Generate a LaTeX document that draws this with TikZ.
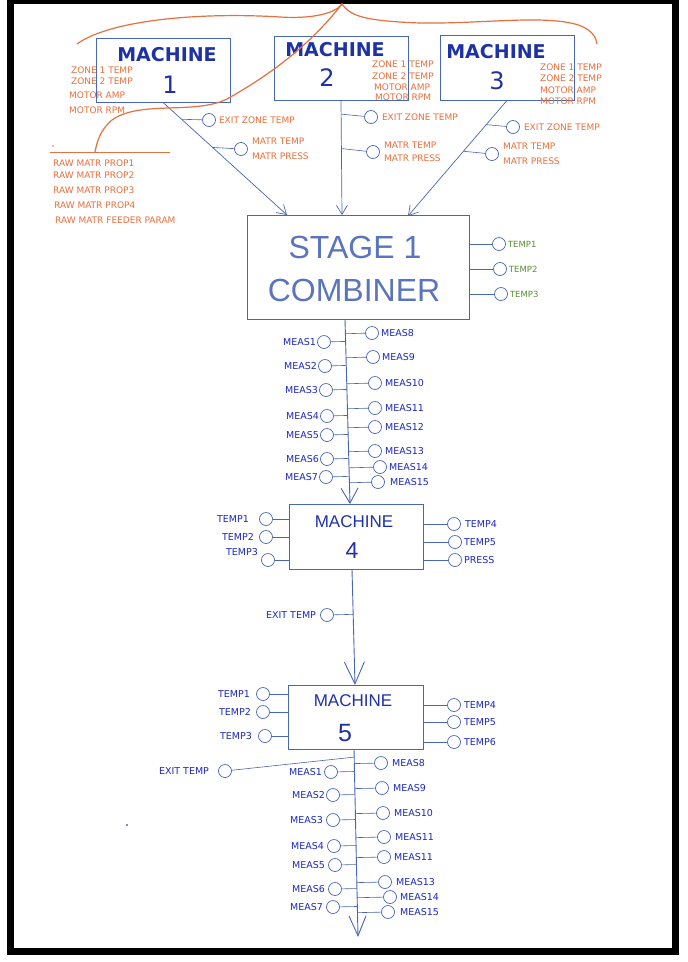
\documentclass[tikz,border=0pt]{standalone}
\usepackage{fontspec}
\setmainfont{DejaVu Sans}
\newfontfamily\sketchfont{Liberation Sans}
\usetikzlibrary{positioning, calc, arrows.meta}

\definecolor{boxblue}{RGB}{72,102,182}
\definecolor{inkblue}{RGB}{28,40,192}
\definecolor{penblue}{RGB}{30,50,165}
\definecolor{rawred}{RGB}{230,112,62}
\definecolor{tempgreen}{RGB}{92,142,48}

\begin{document}
\begin{tikzpicture}[x=1pt, y=-1pt,
    box/.style={rectangle, draw=boxblue, line width=0.8pt, minimum width=134pt, minimum height=64pt},
    probe/.style={circle, draw=boxblue, line width=0.7pt, minimum size=13pt, inner sep=0pt},
    tap/.style={draw=boxblue, line width=0.6pt},
    feed/.style={draw=boxblue, line width=0.7pt, -{Straight Barb[length=9pt, width=11pt]}},
    trunk/.style={draw=boxblue, line width=0.9pt, -{Straight Barb[length=15pt, width=17pt]}},
    measlbl/.style={font=\fontsize{9.5}{11}\selectfont, text=inkblue, inner sep=0pt},
    rawlbl/.style={font=\fontsize{9}{10}\selectfont, text=rawred, inner sep=0pt, anchor=west},
    grnlbl/.style={font=\fontsize{8.5}{10}\selectfont, text=tempgreen, inner sep=0pt},
    bigtitle/.style={font=\bfseries\fontsize{19}{20}\selectfont, text=penblue, inner sep=0pt},
    bignum/.style={font=\fontsize{24}{26}\selectfont, text=penblue, inner sep=0pt},
    thintitle/.style={font=\sketchfont\fontsize{17}{18}\selectfont, text=penblue, inner sep=0pt},
    combtitle/.style={font=\sketchfont\fontsize{32}{34}\selectfont, text=boxblue!90, inner sep=0pt},
]
    \useasboundingbox (0,0) rectangle (688,962);
    % Frame
    \fill[black] (7,0) rectangle (679,955);
    \fill[white] (14,4) rectangle (672,948);

    % Machines 1-3
    \node[box] (m1) at (163,70) {};
    \node[box] (m2) at (341,68) {};
    \node[box, minimum height=65pt] (m3) at (507,67.5) {};
    \node[bigtitle] (m1t) at (167,55) {MACHINE};
    \node[bignum] (m1n) at (170,85) {1};
    \node[bigtitle] (m2t) at (335,50) {MACHINE};
    \node[bignum] (m2n) at (327,78) {2};
    \node[bigtitle] (m3t) at (496,52) {MACHINE};
    \node[bignum] (m3n) at (497,81) {3};

    % Machine readings
    \node[rawlbl] (z11) at (71,70) {ZONE 1 TEMP};
    \node[rawlbl] (z12) at (71,81) {ZONE 2 TEMP};
    \node[rawlbl] (z13) at (69,95) {MOTOR AMP};
    \node[rawlbl] (z14) at (69,110) {MOTOR RPM};
    \node[rawlbl] (z21) at (372,64) {ZONE 1 TEMP};
    \node[rawlbl] (z22) at (372,76) {ZONE 2 TEMP};
    \node[rawlbl] (z23) at (374,87) {MOTOR AMP};
    \node[rawlbl] (z24) at (375,97) {MOTOR RPM};
    \node[rawlbl] (z31) at (540,67) {ZONE 1 TEMP};
    \node[rawlbl] (z32) at (540,78) {ZONE 2 TEMP};
    \node[rawlbl] (z33) at (540,90) {MOTOR AMP};
    \node[rawlbl] (z34) at (540,101) {MOTOR RPM};

    % Raw material
    \node[rawlbl] (raw1) at (53,163) {RAW MATR PROP1};
    \node[rawlbl] (raw2) at (53,175) {RAW MATR PROP2};
    \node[rawlbl] (raw3) at (53,190) {RAW MATR PROP3};
    \node[rawlbl] (raw4) at (54,205) {RAW MATR PROP4};
    \node[rawlbl] (raw5) at (55,220) {RAW MATR FEEDER PARAM};

    % Stage 1 combiner
    \node[box, minimum width=222pt, minimum height=104pt] (comb) at (358,267) {};
    \node[combtitle] (combt1) at (355,247) {STAGE 1};
    \node[combtitle] (combt2) at (354,290) {COMBINER};
    \coordinate (in1) at (287,215);
    \coordinate (in2) at (342,215);
    \coordinate (in3) at (408,216);

    % Feeds into combiner
    \draw[feed] (m1.south) -- (in1) coordinate[pos=0.15] (k1) coordinate[pos=0.40] (k2);
    \draw[feed] (m2.south) -- (in2) coordinate[pos=0.12] (k3) coordinate[pos=0.42] (k4);
    \draw[feed] (m3.south) -- (in3) coordinate[pos=0.21] (k5) coordinate[pos=0.44] (k6);

    \node[probe] (x1) at (209,120) {};
    \node[rawlbl, right=3pt of x1] (x1l) {EXIT ZONE TEMP};
    \node[probe] (y1) at (241,149) {};
    \node[rawlbl, font=\fontsize{9}{15}\selectfont, align=left, right=4pt of y1] (y1l) {MATR TEMP\\MATR PRESS};
    \node[probe] (x2) at (371,117) {};
    \node[rawlbl, right=4pt of x2] (x2l) {EXIT ZONE TEMP};
    \node[probe] (y2) at (373,152) {};
    \node[rawlbl, font=\fontsize{9}{13}\selectfont, align=left, right=4pt of y2] (y2l) {MATR TEMP\\MATR PRESS};
    \node[probe] (x3) at (513,127) {};
    \node[rawlbl, right=4pt of x3] (x3l) {EXIT ZONE TEMP};
    \node[probe] (y3) at (492,154) {};
    \node[rawlbl, font=\fontsize{9}{15}\selectfont, align=left, right=4pt of y3] (y3l) {MATR TEMP\\MATR PRESS};

    \draw[tap] (k1) -- (x1);
    \draw[tap] (k2) -- (y1);
    \draw[tap] (k3) -- (x2);
    \draw[tap] (k4) -- (y2);
    \draw[tap] (k5) -- (x3);
    \draw[tap] (k6) -- (y3);

    % Combiner temperatures
    \node[probe] (g1) at (499,244) {};
    \node[grnlbl, right=2pt of g1] (g1l) {TEMP1};
    \node[probe] (g2) at (500,269) {};
    \node[grnlbl, right=2pt of g2] (g2l) {TEMP2};
    \node[probe] (g3) at (501,294) {};
    \node[grnlbl, right=2pt of g3] (g3l) {TEMP3};
    \draw[tap] (comb.east |- g1) -- (g1);
    \draw[tap] (comb.east |- g2) -- (g2);
    \draw[tap] (comb.east |- g3) -- (g3);

    % Machine 4
    \node[box, minimum height=65pt] (m4) at (356,536.5) {};
    \node[thintitle] (m4t) at (354,522) {MACHINE};
    \node[thintitle, font=\sketchfont\fontsize{23}{24}\selectfont] (m4n) at (352,551) {4};

    % Combiner to machine 4
    \coordinate (ta) at (345,319);
    \coordinate (tb) at (350,504);
    \draw[trunk] (ta) -- (tb);

    \node[probe] (c1) at (324,342) {};
    \node[measlbl, left=1pt of c1] (c1l) {MEAS1};
    \node[probe] (c2) at (325,366) {};
    \node[measlbl, left=1pt of c2] (c2l) {MEAS2};
    \node[probe] (c3) at (326,390) {};
    \node[measlbl, left=1pt of c3] (c3l) {MEAS3};
    \node[probe] (c4) at (327,416) {};
    \node[measlbl, left=1pt of c4] (c4l) {MEAS4};
    \node[probe] (c5) at (327,435) {};
    \node[measlbl, left=1pt of c5] (c5l) {MEAS5};
    \node[probe] (c6) at (327,459) {};
    \node[measlbl, left=1pt of c6] (c6l) {MEAS6};
    \node[probe] (c7) at (326,477) {};
    \node[measlbl, left=1pt of c7] (c7l) {MEAS7};
    \node[probe] (c8) at (372,333) {};
    \node[measlbl, right=2pt of c8] (c8l) {MEAS8};
    \node[probe] (c9) at (373,357) {};
    \node[measlbl, right=2pt of c9] (c9l) {MEAS9};
    \node[probe] (c10) at (375,383) {};
    \node[measlbl, right=3pt of c10] (c10l) {MEAS10};
    \node[probe] (c11) at (375,408) {};
    \node[measlbl, right=3pt of c11] (c11l) {MEAS11};
    \node[probe] (c12) at (375,427) {};
    \node[measlbl, right=3pt of c12] (c12l) {MEAS12};
    \node[probe] (c13) at (375,451) {};
    \node[measlbl, right=3pt of c13] (c13l) {MEAS13};
    \node[probe] (c14) at (380,467) {};
    \node[measlbl, right=2pt of c14] (c14l) {MEAS14};
    \node[probe] (c15) at (378,482) {};
    \node[measlbl, right=5pt of c15] (c15l) {MEAS15};

    \draw[tap] ($(ta)!(c1)!(tb)$) -- (c1);
    \draw[tap] ($(ta)!(c2)!(tb)$) -- (c2);
    \draw[tap] ($(ta)!(c3)!(tb)$) -- (c3);
    \draw[tap] ($(ta)!(c4)!(tb)$) -- (c4);
    \draw[tap] ($(ta)!(c5)!(tb)$) -- (c5);
    \draw[tap] ($(ta)!(c6)!(tb)$) -- (c6);
    \draw[tap] ($(ta)!(c7)!(tb)$) -- (c7);
    \draw[tap] ($(ta)!(c8)!(tb)$) -- (c8);
    \draw[tap] ($(ta)!(c9)!(tb)$) -- (c9);
    \draw[tap] ($(ta)!(c10)!(tb)$) -- (c10);
    \draw[tap] ($(ta)!(c11)!(tb)$) -- (c11);
    \draw[tap] ($(ta)!(c12)!(tb)$) -- (c12);
    \draw[tap] ($(ta)!(c13)!(tb)$) -- (c13);
    \draw[tap] ($(ta)!(c14)!(tb)$) -- (c14);
    \draw[tap] ($(ta)!(c15)!(tb)$) -- (c15);

    % Machine 4 readings
    \node[probe] (p41) at (266,519) {};
    \node[measlbl, left=10pt of p41] (p41l) {TEMP1};
    \node[probe] (p42) at (266,537) {};
    \node[measlbl, left=5pt of p42] (p42l) {TEMP2};
    \node[probe] (p43) at (268,560) {};
    \node[measlbl, anchor=east] (p43l) at (258,552) {TEMP3};
    \node[probe] (p44) at (454,524) {};
    \node[measlbl, right=4pt of p44] (p44l) {TEMP4};
    \node[probe] (p45) at (455,542) {};
    \node[measlbl, right=2pt of p45] (p45l) {TEMP5};
    \node[probe] (p46) at (455,560) {};
    \node[measlbl, right=2pt of p46] (p46l) {PRESS};
    \draw[tap] (p41) -- (p41 -| m4.west);
    \draw[tap] (p42) -- (p42 -| m4.west);
    \draw[tap] (p43) -- (p43 -| m4.west);
    \draw[tap] (m4.east |- p44) -- (p44);
    \draw[tap] (m4.east |- p45) -- (p45);
    \draw[tap] (m4.east |- p46) -- (p46);

    % Machine 4 to machine 5
    \coordinate (tc) at (352,569);
    \coordinate (td) at (355,685);
    \draw[trunk, -{Straight Barb[length=22pt, width=20pt]}] (tc) -- (td);
    \node[probe] (pe4) at (327,615) {};
    \node[measlbl, left=4pt of pe4] (pe4l) {EXIT TEMP};
    \draw[tap] ($(tc)!(pe4)!(td)$) -- (pe4);

    % Machine 5
    \node[box, minimum width=135pt] (m5) at (355.5,717) {};
    \node[thintitle] (m5t) at (353,701) {MACHINE};
    \node[thintitle, font=\sketchfont\fontsize{25}{26}\selectfont] (m5n) at (345,733) {5};

    \node[probe] (p51) at (263,694) {};
    \node[measlbl, left=6pt of p51] (p51l) {TEMP1};
    \node[probe] (p52) at (263,712) {};
    \node[measlbl, left=5pt of p52] (p52l) {TEMP2};
    \node[probe] (p53) at (265,736) {};
    \node[measlbl, left=6pt of p53] (p53l) {TEMP3};
    \node[probe] (p54) at (454,705) {};
    \node[measlbl, right=3pt of p54] (p54l) {TEMP4};
    \node[probe] (p55) at (454,722) {};
    \node[measlbl, right=3pt of p55] (p55l) {TEMP5};
    \node[probe] (p56) at (454,742) {};
    \node[measlbl, right=3pt of p56] (p56l) {TEMP6};
    \draw[tap] (p51) -- (p51 -| m5.west);
    \draw[tap] (p52) -- (p52 -| m5.west);
    \draw[tap] (p53) -- (p53 -| m5.west);
    \draw[tap] (m5.east |- p54) -- (p54);
    \draw[tap] (m5.east |- p55) -- (p55);
    \draw[tap] (m5.east |- p56) -- (p56);

    % Machine 5 outlet
    \coordinate (te) at (354,749);
    \coordinate (tf) at (358,937);
    \draw[trunk, -{Straight Barb[length=20pt, width=17pt]}] (te) -- (tf);
    \coordinate (tx) at ($(te)!0.043!(tf)$);
    \node[probe] (pe5) at (225,771) {};
    \node[measlbl, left=9pt of pe5] (pe5l) {EXIT TEMP};
    \draw[tap] (tx) -- (pe5);

    \node[probe] (d1) at (331,772) {};
    \node[measlbl, left=2pt of d1] (d1l) {MEAS1};
    \node[probe] (d2) at (333,795) {};
    \node[measlbl, left=1pt of d2] (d2l) {MEAS2};
    \node[probe] (d3) at (333,820) {};
    \node[measlbl, left=3pt of d3] (d3l) {MEAS3};
    \node[probe] (d4) at (334,846) {};
    \node[measlbl, left=3pt of d4] (d4l) {MEAS4};
    \node[probe] (d5) at (335,865) {};
    \node[measlbl, left=3pt of d5] (d5l) {MEAS5};
    \node[probe] (d6) at (335,889) {};
    \node[measlbl, left=3pt of d6] (d6l) {MEAS6};
    \node[probe] (d7) at (333,907) {};
    \node[measlbl, left=3pt of d7] (d7l) {MEAS7};
    \node[probe] (d8) at (381,763) {};
    \node[measlbl, right=4pt of d8] (d8l) {MEAS8};
    \node[probe] (d9) at (382,788) {};
    \node[measlbl, right=4pt of d9] (d9l) {MEAS9};
    \node[probe] (d10) at (383,813) {};
    \node[measlbl, right=4pt of d10] (d10l) {MEAS10};
    \node[probe] (d11) at (384,837) {};
    \node[measlbl, right=4pt of d11] (d11l) {MEAS11};
    \node[probe] (d12) at (384,857) {};
    \node[measlbl, right=3pt of d12] (d12l) {MEAS11};
    \node[probe] (d13) at (385,882) {};
    \node[measlbl, right=4pt of d13] (d13l) {MEAS13};
    \node[probe] (d14) at (390,897) {};
    \node[measlbl, right=3pt of d14] (d14l) {MEAS14};
    \node[probe] (d15) at (388,912) {};
    \node[measlbl, right=5pt of d15] (d15l) {MEAS15};

    \draw[tap] ($(te)!(d1)!(tf)$) -- (d1);
    \draw[tap] ($(te)!(d2)!(tf)$) -- (d2);
    \draw[tap] ($(te)!(d3)!(tf)$) -- (d3);
    \draw[tap] ($(te)!(d4)!(tf)$) -- (d4);
    \draw[tap] ($(te)!(d5)!(tf)$) -- (d5);
    \draw[tap] ($(te)!(d6)!(tf)$) -- (d6);
    \draw[tap] ($(te)!(d7)!(tf)$) -- (d7);
    \draw[tap] ($(te)!(d8)!(tf)$) -- (d8);
    \draw[tap] ($(te)!(d9)!(tf)$) -- (d9);
    \draw[tap] ($(te)!(d10)!(tf)$) -- (d10);
    \draw[tap] ($(te)!(d11)!(tf)$) -- (d11);
    \draw[tap] ($(te)!(d12)!(tf)$) -- (d12);
    \draw[tap] ($(te)!(d13)!(tf)$) -- (d13);
    \draw[tap] ($(te)!(d14)!(tf)$) -- (d14);
    \draw[tap] ($(te)!(d15)!(tf)$) -- (d15);

    % Orange markup
    \draw[rawred, line width=1pt] (50,152) -- (170,152);
    \fill[rawred] (53,146) circle (0.8);
    \draw[rawred, line width=1.2pt] (77,44) .. controls (110,20) and (200,12) .. (280,17)
        .. controls (310,19) and (335,14) .. (342,4)
        .. controls (350,16) and (365,21) .. (420,23)
        .. controls (480,24) and (540,15) .. (575,24)
        .. controls (590,28) and (596,36) .. (597,44);
    \draw[rawred, line width=1.2pt] (342,4) .. controls (310,45) and (270,75) .. (227,99)
        .. controls (195,115) and (140,100) .. (112,120)
        .. controls (100,130) and (97,142) .. (95,152);
    \fill[boxblue] (127,825) circle (1.2);
\end{tikzpicture}
\end{document}
